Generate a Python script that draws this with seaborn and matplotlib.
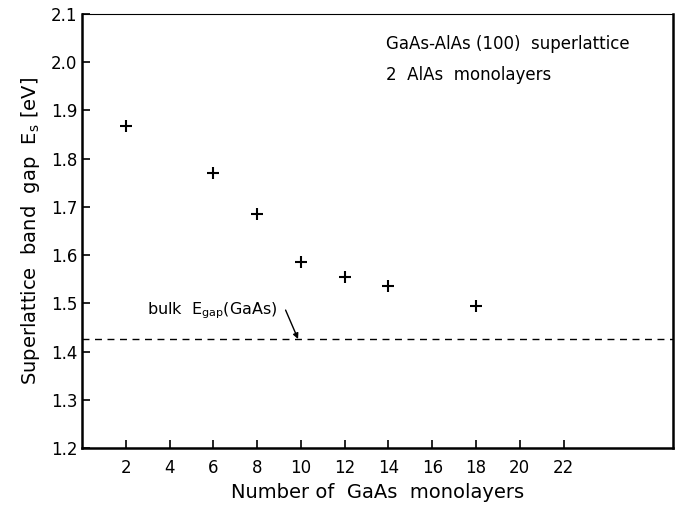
import pandas as pd
import matplotlib
matplotlib.use("Agg")
import matplotlib.pyplot as plt
import seaborn as sns

# values
gaas_layers = [2, 6, 8, 10, 12, 14, 18]
band_gap = [1.868, 1.770, 1.685, 1.586, 1.555, 1.535, 1.494]
bulk_gap = 1.426
x_ticks = [2, 4, 6, 8, 10, 12, 14, 16, 18, 20, 22]
y_ticks = [1.2, 1.3, 1.4, 1.5, 1.6, 1.7, 1.8, 1.9, 2.0, 2.1]

df = pd.DataFrame({"n": gaas_layers, "Es": band_gap})

sns.set_style("ticks", {"axes.edgecolor": "black", "text.color": "black",
                        "axes.labelcolor": "black", "xtick.color": "black",
                        "ytick.color": "black"})
plt.rcParams["font.family"] = ["DejaVu Sans"]

fig = plt.figure(figsize=(6.78, 5.07), dpi=100)
ax = fig.add_axes([0.121, 0.1164, 0.8716, 0.856])

sns.scatterplot(data=df, x="n", y="Es", marker="+", color="black",
                s=80, linewidth=1.5, ax=ax, legend=False)
ax.axhline(bulk_gap, color="black", lw=1.0, ls=(0, (5, 4)))

ax.set_xlim(0, 27)
ax.set_ylim(1.2, 2.1)
ax.set_xticks(x_ticks)
ax.set_yticks(y_ticks)
ax.set_yticklabels([f"{v:.1f}" for v in y_ticks])
ax.tick_params(direction="in", length=6, width=1.2, labelsize=12, colors="black")
ax.tick_params(axis="x", pad=8)

for side in ["left", "bottom", "right"]:
    ax.spines[side].set_linewidth(1.8)
    ax.spines[side].set_visible(True)
ax.spines["top"].set_visible(True)
ax.spines["top"].set_linewidth(0.8)
ax.spines["top"].set_linestyle((0, (2, 1)))

ax.set_xlabel("Number of  GaAs  monolayers", fontsize=14, labelpad=4, color="black")
ax.set_ylabel("Superlattice  band  gap  E$_\\mathregular{s}$ [eV]", fontsize=14,
              labelpad=6, color="black")

ax.text(13.9, 2.037, "GaAs-AlAs (100)  superlattice", fontsize=12, va="center", color="black")
ax.text(13.9, 1.974, "2  AlAs  monolayers", fontsize=12, va="center", color="black")

ax.text(2.95, 1.485, "bulk  E$_\\mathregular{gap}$(GaAs)", fontsize=11.5, va="center",
        color="black")
ax.annotate("", xy=(9.87, bulk_gap), xytext=(9.3, 1.486),
            arrowprops=dict(arrowstyle="-|>", color="black", lw=1.0,
                            shrinkA=0, shrinkB=0, mutation_scale=8))

fig.savefig("out.png", dpi=100)
